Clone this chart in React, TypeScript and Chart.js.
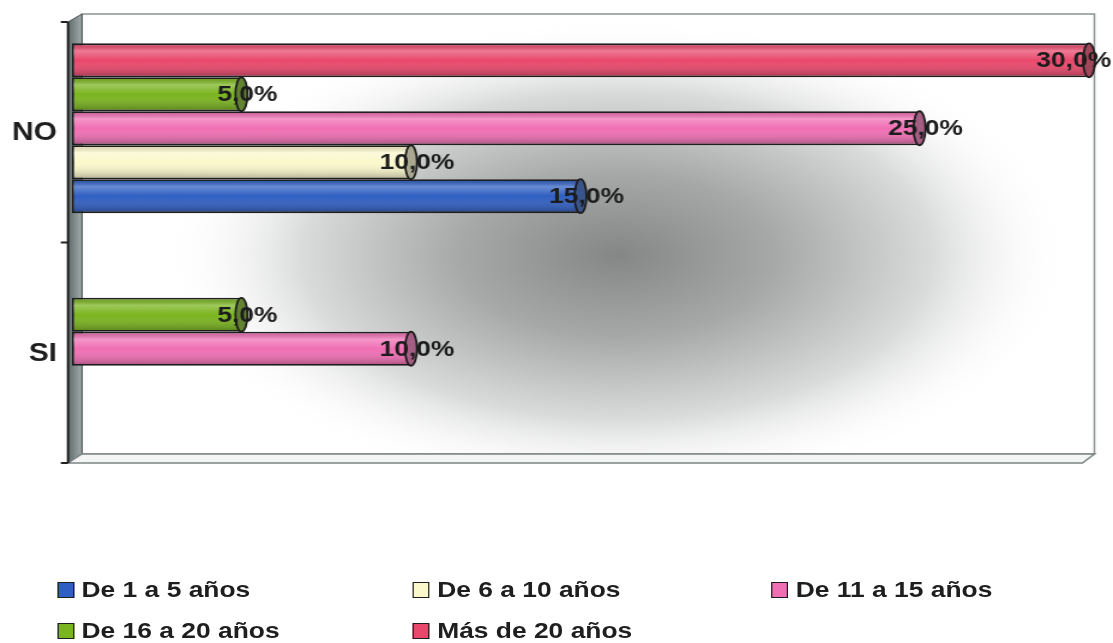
import React, { useEffect, useRef } from 'react';
import { Chart, registerables } from 'chart.js';

Chart.register(...registerables);

// ---- data ----
const categories = ['NO', 'SI'];
const seriesNames = ['De 1 a 5 años', 'De 6 a 10 años', 'De 11 a 15 años', 'De 16 a 20 años', 'Más de 20 años'];
const de1a5 = [15, 0];
const de6a10 = [10, 0];
const de11a15 = [25, 10];
const de16a20 = [5, 5];
const mas20 = [30, 0];
const seriesColors = ['#2f5fc2', '#fbf8cc', '#f06fb4', '#7ab41f', '#e9486c'];
const xMin = 0;
const xMax = 30;

const W = 928;
const H = 643;
const SX = 1113 / W;
const FONT = '"Liberation Sans", Arial, Helvetica, sans-serif';

const framePlugin = {
  id: 'frame3d',
  beforeDatasetsDraw(chart: any) {
    const ctx = chart.ctx;
    const ca = chart.chartArea;
    const bx0 = ca.left + 8.3, bx1 = ca.right + 4.5, by0 = ca.top - 4, by1 = ca.bottom - 5;
    const fx0 = ca.left - 3.3, fy0 = ca.top + 4, fy1 = ca.bottom + 4, fx1 = ca.right - 5.5;
    ctx.save();
    // back wall
    ctx.fillStyle = '#ffffff';
    ctx.fillRect(bx0, by0, bx1 - bx0, by1 - by0);
    ctx.save();
    ctx.beginPath();
    ctx.rect(bx0, by0, bx1 - bx0, by1 - by0);
    ctx.clip();
    const cx = 515, cy = 255;
    ctx.translate(cx, cy);
    ctx.scale(1.6, 1);
    const g = ctx.createRadialGradient(0, 0, 0, 0, 0, 235);
    g.addColorStop(0, '#858787');
    g.addColorStop(0.35, '#a7a9a9');
    g.addColorStop(0.7, '#dadbdb');
    g.addColorStop(1, 'rgba(255,255,255,0)');
    ctx.fillStyle = g;
    ctx.beginPath();
    ctx.arc(0, 0, 240, 0, Math.PI * 2);
    ctx.fill();
    ctx.restore();
    ctx.lineWidth = 1.5;
    ctx.strokeStyle = '#8c9292';
    ctx.strokeRect(bx0, by0, bx1 - bx0, by1 - by0);
    // left wall
    const lg = ctx.createLinearGradient(fx0, 0, bx0, 0);
    lg.addColorStop(0, '#5e6b6b');
    lg.addColorStop(1, '#a3acac');
    ctx.fillStyle = lg;
    ctx.beginPath();
    ctx.moveTo(fx0, fy0);
    ctx.lineTo(bx0, by0);
    ctx.lineTo(bx0, by1);
    ctx.lineTo(fx0, fy1);
    ctx.closePath();
    ctx.fill();
    ctx.strokeStyle = '#4a5050';
    ctx.lineWidth = 1;
    ctx.stroke();
    // floor
    ctx.fillStyle = '#f4f5f5';
    ctx.beginPath();
    ctx.moveTo(fx0, fy1);
    ctx.lineTo(bx0, by1);
    ctx.lineTo(bx1, by1);
    ctx.lineTo(fx1, fy1);
    ctx.closePath();
    ctx.fill();
    ctx.strokeStyle = '#7d8585';
    ctx.lineWidth = 1.5;
    ctx.stroke();
    // axis line + ticks
    ctx.strokeStyle = '#222';
    ctx.lineWidth = 2;
    ctx.beginPath();
    ctx.moveTo(fx0, fy0);
    ctx.lineTo(fx0, fy1);
    const n = chart.scales.y.ticks.length;
    for (let i = 0; i <= n; i++) {
      const yy = fy0 + ((fy1 - fy0) * i) / n;
      ctx.moveTo(fx0 - 6, yy);
      ctx.lineTo(fx0, yy);
    }
    ctx.stroke();
    ctx.restore();
  },
};

const cylinderPlugin = {
  id: 'cylinder',
  afterDatasetsDraw(chart: any) {
    const ctx = chart.ctx;
    ctx.save();
    const labels: any[] = [];
    chart.data.datasets.forEach((ds: any, di: number) => {
      const meta = chart.getDatasetMeta(di);
      meta.data.forEach((el: any, i: number) => {
        const v = ds.data[i];
        if (!v) return;
        const p = el.getProps(['x', 'y', 'base', 'height'], true);
        const top = p.y - p.height / 2;
        const bot = p.y + p.height / 2;
        const g = ctx.createLinearGradient(0, top, 0, bot);
        g.addColorStop(0, 'rgba(0,0,0,0.12)');
        g.addColorStop(0.22, 'rgba(255,255,255,0.28)');
        g.addColorStop(0.5, 'rgba(255,255,255,0)');
        g.addColorStop(1, 'rgba(0,0,0,0.3)');
        ctx.fillStyle = g;
        ctx.fillRect(p.base + 1, top + 1.5, p.x - p.base - 1, p.height - 3);
        // end cap
        ctx.beginPath();
        ctx.ellipse(p.x, p.y, 5, p.height / 2, 0, 0, Math.PI * 2);
        ctx.fillStyle = ds.backgroundColor;
        ctx.fill();
        ctx.fillStyle = 'rgba(70,70,70,0.45)';
        ctx.fill();
        ctx.lineWidth = 1.8;
        ctx.strokeStyle = '#1e1e1e';
        ctx.stroke();
        labels.push({ v, x: p.x, y: p.y });
      });
    });
    ctx.font = `bold 22px ${FONT}`;
    ctx.fillStyle = '#1c1c1c';
    ctx.textAlign = 'center';
    ctx.textBaseline = 'middle';
    labels.forEach((l) => {
      const t = l.v.toFixed(1).replace('.', ',') + '%';
      const w = ctx.measureText(t).width;
      const cx = Math.min(l.x + 5, chart.width - 1.5 - w / 2);
      ctx.fillText(t, cx, l.y + 1);
    });
    ctx.restore();
  },
};

export default function App() {
  const ref = useRef<HTMLCanvasElement | null>(null);
  useEffect(() => {
    if (!ref.current) return;
    Chart.defaults.font.family = FONT;
    const series = [de1a5, de6a10, de11a15, de16a20, mas20];
    const order = [4, 3, 2, 1, 0];
    const chart = new Chart(ref.current, {
      type: 'bar',
      data: {
        labels: categories,
        datasets: order.map((k) => ({
          label: seriesNames[k],
          data: series[k],
          backgroundColor: seriesColors[k],
          borderColor: '#1e1e1e',
          borderWidth: 1.8,
          borderSkipped: false,
          categoryPercentage: 0.77,
          barPercentage: 1,
        })),
      },
      options: {
        responsive: false,
        animation: false,
        indexAxis: 'y',
        layout: { padding: { top: 18, right: 20, bottom: 184, left: 0 } },
        plugins: { legend: { display: false }, tooltip: { enabled: false } },
        scales: {
          x: { display: false, min: xMin, max: xMax },
          y: {
            grid: { display: false, drawTicks: false },
            border: { display: false },
            ticks: {
              padding: 12.5,
              labelOffset: 5,
              color: '#1e1e1e',
              font: { family: FONT, size: 25, weight: 'bold' },
            },
            afterFit: (s: any) => {
              s.width = 60;
              s.paddingTop = 0;
              s.paddingBottom = 0;
            },
          },
        },
      } as any,
      plugins: [framePlugin, cylinderPlugin],
    });
    return () => chart.destroy();
  }, []);

  const cols = [47.5, 344, 643];
  const items = seriesNames.map((name, k) => ({
    name,
    color: seriesColors[k],
    col: k % 3,
    row: Math.floor(k / 3),
  }));

  return (
    <div style={{ position: 'absolute', left: 0, top: 0, width: 1113, height: H, overflow: 'hidden', background: '#fff' }}>
      <div
        style={{
          position: 'absolute',
          left: 0,
          top: 0,
          width: W,
          height: H,
          transform: `scaleX(${SX})`,
          transformOrigin: '0 0',
        }}
      >
        <canvas ref={ref} width={W} height={H} style={{ width: W, height: H }} />
        {items.map((it) => (
          <div key={it.name}>
            <div
              style={{
                position: 'absolute',
                left: cols[it.col],
                top: it.row === 0 ? 582 : 623,
                width: 12,
                height: 14,
                background: it.color,
                border: '1px solid #1e1e1e',
              }}
            />
            <div
              style={{
                position: 'absolute',
                left: cols[it.col] + 20.5,
                top: it.row === 0 ? 579.4 : 620.4,
                fontFamily: FONT,
                fontWeight: 'bold',
                fontSize: 22,
                lineHeight: '22px',
                color: '#1e1e1e',
                whiteSpace: 'nowrap',
              }}
            >
              {it.name}
            </div>
          </div>
        ))}
      </div>
    </div>
  );
}
